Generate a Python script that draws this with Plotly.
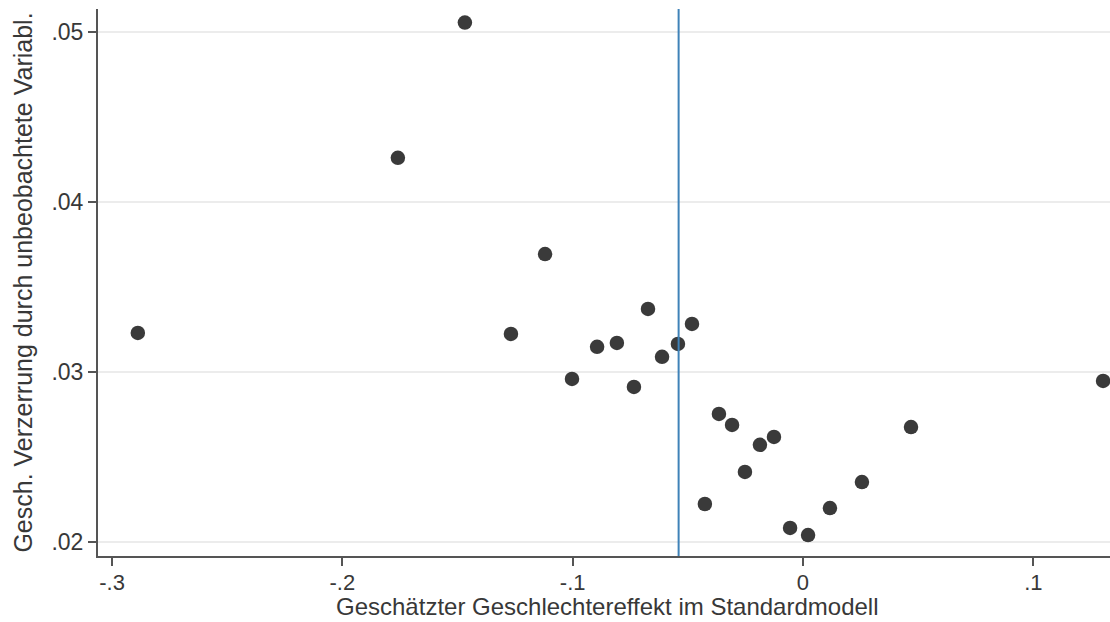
import plotly.graph_objects as go

# Estimated gender effect in the standard model (x) vs. estimated bias from unobserved variables (y)
effect_std = [-0.2888, -0.1468, -0.1759, -0.1120, -0.1268, -0.1003, -0.0894, -0.0808,
              -0.0734, -0.0673, -0.0612, -0.0543, -0.0482, -0.0426, -0.0365, -0.0308,
              -0.0252, -0.0187, -0.0126, -0.0056, 0.0022, 0.0117, 0.0256, 0.0469, 0.1303]
bias_unobs = [0.03229, 0.05055, 0.04259, 0.03693, 0.03223, 0.02958, 0.03147, 0.03170,
              0.02911, 0.03370, 0.03088, 0.03164, 0.03282, 0.02222, 0.02752, 0.02687,
              0.02411, 0.02570, 0.02617, 0.02081, 0.02039, 0.02198, 0.02351, 0.02675, 0.02946]

# Reference line position on the x axis
ref_line_x = -0.054

x_tickvals = [-0.3, -0.2, -0.1, 0.0, 0.1]
x_ticktext = ["-.3", "-.2", "-.1", "0", ".1"]
y_tickvals = [0.02, 0.03, 0.04, 0.05]
y_ticktext = [".02", ".03", ".04", ".05"]

fig = go.Figure()
fig.add_trace(go.Scatter(
    x=effect_std, y=bias_unobs, mode="markers",
    marker=dict(color="#3a3a3a", size=14.5, line=dict(width=0)),
    hoverinfo="x+y",
))

fig.add_shape(type="line", xref="x", yref="paper",
              x0=ref_line_x, x1=ref_line_x, y0=0, y1=1,
              line=dict(color="#3f82b8", width=2))

family = "Liberation Sans, Arial, sans-serif"
ink = "#383838"

# x-axis title drawn as an annotation anchored to the bottom edge of the page
fig.add_annotation(
    text="Geschätzter Geschlechtereffekt im Standardmodell",
    xref="paper", yref="paper", x=0.5, y=-66 / 547, xanchor="center", yanchor="bottom",
    xshift=3, yshift=0,
    showarrow=False, font=dict(family=family, size=24, color=ink),
)

fig.update_layout(
    width=1110, height=622,
    margin=dict(l=98, r=0, t=9, b=66),
    paper_bgcolor="white", plot_bgcolor="white",
    showlegend=False,
    font=dict(family=family, size=24, color=ink),
    xaxis=dict(
        range=[-0.3061, 0.1333],
        tickmode="array", tickvals=x_tickvals, ticktext=x_ticktext,
        ticks="outside", ticklen=8, tickwidth=1.5, tickcolor="#555555",
        showline=True, linecolor="#555555", linewidth=2,
        showgrid=False, zeroline=False,
        tickfont=dict(family=family, size=22, color=ink),
        ticklabelstandoff=-2,
        automargin=False,
    ),
    yaxis=dict(
        range=[0.01916, 0.05135],
        tickmode="array", tickvals=y_tickvals, ticktext=y_ticktext,
        ticks="outside", ticklen=8, tickwidth=1.5, tickcolor="#555555",
        showline=True, linecolor="#555555", linewidth=2,
        showgrid=True, gridcolor="#ececec", gridwidth=1.5,
        zeroline=False,
        tickfont=dict(family=family, size=23, color=ink),
        title=dict(text="Gesch. Verzerrung durch unbeobachtete Variabl.",
                   font=dict(family=family, size=25, color=ink), standoff=12),
        automargin=False,
    ),
)

fig.write_html("out.html")
